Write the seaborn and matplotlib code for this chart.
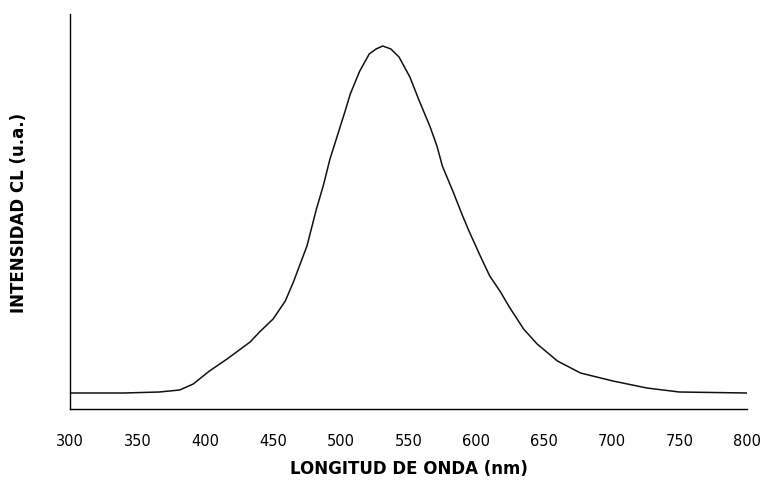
import numpy as np
import pandas as pd
import matplotlib
matplotlib.use("Agg")
import matplotlib.pyplot as plt
import seaborn as sns

# spectrum (intensity in arbitrary units)
wavelength = [300, 340, 366, 381, 391, 403, 416, 433, 440, 450, 459, 465,
              475, 482, 487, 492, 496, 499, 503, 507, 514, 521, 526, 531,
              537, 543, 551, 558, 566, 571, 575, 583, 590, 595, 603, 610,
              618, 624, 635, 645, 660, 677, 701, 726, 750, 800]
intensity = [16, 16, 17, 19, 25, 38, 50, 67, 77, 90, 108, 127,
             163, 200, 223, 250, 267, 280, 297, 315, 338, 355, 360, 363,
             360, 352, 332, 308, 282, 263, 243, 217, 193, 177, 153, 133,
             117, 103, 80, 65, 48, 36, 28, 21, 17, 16]
xticks = [300, 350, 400, 450, 500, 550, 600, 650, 700, 750, 800]

df = pd.DataFrame({"wl": wavelength, "cl": intensity})

sns.set_theme(style="white")
plt.rcParams["font.family"] = ["DejaVu Sans"]

fig = plt.figure(figsize=(7.66, 4.85), dpi=100)
ax = fig.add_axes([70 / 766, 75 / 485, 677 / 766, 395 / 485])

sns.lineplot(data=df, x="wl", y="cl", ax=ax, color="#111111", linewidth=1.1)

ax.set_xlim(300, 800)
ax.set_ylim(0, 395)
ax.set_xticks(xticks)
ax.set_yticks([])
ax.tick_params(axis="x", direction="inout", length=7, width=0.8,
               colors="black", labelsize=10.5, pad=14)
sns.despine(ax=ax)
for s in ["left", "bottom"]:
    ax.spines[s].set_color("black")
    ax.spines[s].set_linewidth(1.0)

ax.set_xlabel("LONGITUD DE ONDA (nm)", fontsize=12, fontweight="bold",
              labelpad=8, color="black")
ax.set_ylabel("INTENSIDAD CL (u.a.)", fontsize=12, fontweight="bold",
              labelpad=30, color="black")

fig.savefig("out.png", dpi=100)
